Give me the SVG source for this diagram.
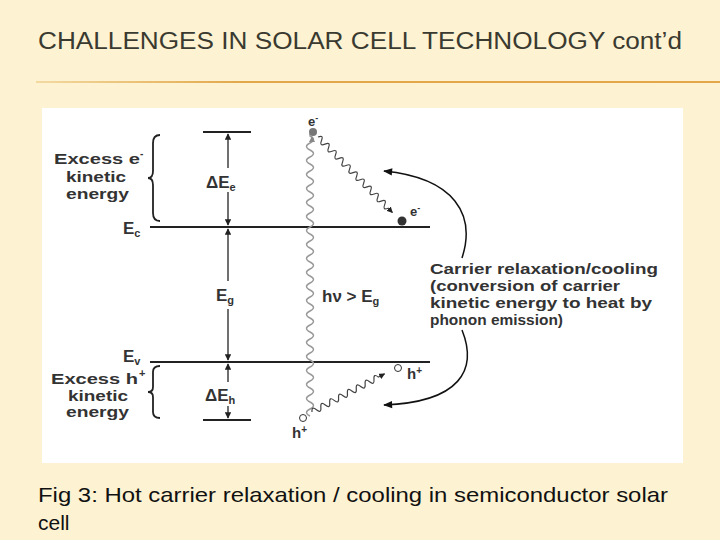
<svg xmlns="http://www.w3.org/2000/svg" width="720" height="540" viewBox="0 0 720 540">
<defs>
<linearGradient id="hl" x1="0" x2="1"><stop offset="0" stop-color="#f3d9a0"/><stop offset="0.3" stop-color="#e2a84a"/><stop offset="1" stop-color="#e6a64a"/></linearGradient>
<marker id="ah" viewBox="0 0 10 10" refX="9" refY="5" markerWidth="5" markerHeight="5" orient="auto-start-reverse"><path d="M0,0L10,5L0,10z" fill="#222"/></marker>
<marker id="big" viewBox="0 0 10 10" refX="9" refY="5" markerWidth="8" markerHeight="6" orient="auto"><path d="M0,1L10,5L0,9z" fill="#111"/></marker>
</defs>
<style>
.t{font-family:"Liberation Sans",Arial,sans-serif;fill:#333;font-weight:bold}
.l{stroke:#222;stroke-width:2;fill:none}
.w{stroke:#999;stroke-width:1.4;fill:none}
.z{stroke:#444;stroke-width:1.2;fill:none}
</style>
<rect width="720" height="540" fill="#fdf3d2"/>
<text x="38" y="49" font-family="Liberation Sans,Arial,sans-serif" font-size="23" fill="#3a3a30" textLength="644" lengthAdjust="spacingAndGlyphs">CHALLENGES IN SOLAR CELL TECHNOLOGY cont’d</text>
<rect x="36" y="81" width="684" height="2" fill="url(#hl)"/>
<rect x="42" y="108" width="641" height="355" fill="#fff"/>
<g id="levels">
<line class="l" x1="203" y1="132" x2="251" y2="132"/>
<line class="l" x1="150" y1="227" x2="430" y2="227"/>
<line class="l" x1="150" y1="362" x2="430" y2="362"/>
<line class="l" x1="203" y1="420" x2="251" y2="420"/>
</g>
<g id="connectors">
<line stroke="#222" stroke-width="1.3" x1="228" y1="134" x2="228" y2="225" marker-start="url(#ah)" marker-end="url(#ah)"/>
<line stroke="#222" stroke-width="1.3" x1="228" y1="229" x2="228" y2="360" marker-start="url(#ah)" marker-end="url(#ah)"/>
<line stroke="#222" stroke-width="1.3" x1="228" y1="364" x2="228" y2="418" marker-start="url(#ah)" marker-end="url(#ah)"/>
<g transform="translate(310,416) rotate(-90)"><path class="w" d="M0,0 q3.5,-7 7,0 t7,0 t7,0 t7,0 t7,0 t7,0 t7,0 t7,0 t7,0 t7,0 t7,0 t7,0 t7,0 t7,0 t7,0 t7,0 t7,0 t7,0 t7,0 t7,0 t7,0 t7,0 t7,0 t7,0 t7,0 t7,0 t7,0 t7,0 t7,0 t7,0 t7,0 t7,0 t7,0 t7,0 t7,0 t7,0 t7,0 t7,0 t7,0 t7,0 L282,0"/></g>
<path d="M312,136 l-3,6 l6,0z" fill="#888"/>
<g transform="translate(318,137) rotate(45.4)"><path class="z" d="M0,0 q2.5,-6 5,0 t5,0 t5,0 t5,0 t5,0 t5,0 t5,0 t5,0 t5,0 t5,0 t5,0 t5,0 t5,0 t5,0 t5,0 t5,0 t5,0 t5,0 t5,0 t5,0 L106,0" marker-end="url(#ah)"/></g>
<g transform="translate(312,412) rotate(-27.7)"><path class="z" d="M0,0 q2.5,-6 5,0 t5,0 t5,0 t5,0 t5,0 t5,0 t5,0 t5,0 t5,0 t5,0 t5,0 t5,0 t5,0 t5,0 t5,0 L82,0" marker-end="url(#ah)"/></g>
<path d="M462,258 C476,215 455,178 384,171" stroke="#111" stroke-width="1.5" fill="none" marker-end="url(#big)"/>
<path d="M462,330 C478,370 460,402 384,405" stroke="#111" stroke-width="1.5" fill="none" marker-end="url(#big)"/>
</g>
<g id="particles">
<circle cx="313" cy="132" r="4" fill="#777"/>
<circle cx="402" cy="221" r="4.5" fill="#333"/>
<circle cx="398" cy="368" r="3.5" fill="#fff" stroke="#333"/>
<circle cx="303" cy="418" r="3.5" fill="#fff" stroke="#333"/>
</g>
<g id="labels">
<text class="t" x="54" y="164" font-size="15" textLength="86" lengthAdjust="spacingAndGlyphs">Excess e</text><text class="t" x="140" y="157" font-size="10">-</text>
<text class="t" x="66" y="182" font-size="15" textLength="60" lengthAdjust="spacingAndGlyphs">kinetic</text>
<text class="t" x="66" y="199" font-size="15" textLength="63" lengthAdjust="spacingAndGlyphs">energy</text>
<text class="t" x="123" y="234" font-size="17">E<tspan font-size="11" dy="3">c</tspan></text>
<text class="t" x="123" y="362" font-size="17">E<tspan font-size="11" dy="3">v</tspan></text>
<text class="t" x="51" y="384" font-size="15" textLength="87" lengthAdjust="spacingAndGlyphs">Excess h</text><text class="t" x="139" y="377" font-size="11">+</text>
<text class="t" x="68" y="401" font-size="15" textLength="60" lengthAdjust="spacingAndGlyphs">kinetic</text>
<text class="t" x="66" y="417" font-size="15" textLength="63" lengthAdjust="spacingAndGlyphs">energy</text>
<rect x="205" y="168" width="46" height="24" fill="#fff"/>
<text class="t" x="206" y="188" font-size="17">ΔE<tspan font-size="11" dy="3">e</tspan></text>
<rect x="214" y="281" width="30" height="28" fill="#fff"/>
<text class="t" x="216" y="301" font-size="17">E<tspan font-size="11" dy="3">g</tspan></text>
<rect x="204" y="382" width="48" height="24" fill="#fff"/>
<text class="t" x="205" y="401" font-size="17">ΔE<tspan font-size="11" dy="3">h</tspan></text>
<text class="t" x="322" y="302" font-size="17">hν &gt; E<tspan font-size="11" dy="3">g</tspan></text>
<text class="t" x="308" y="126" font-size="13">e<tspan font-size="9" dy="-5">-</tspan></text>
<text class="t" x="410" y="216" font-size="13">e<tspan font-size="9" dy="-5">-</tspan></text>
<text class="t" x="407" y="379" font-size="15">h<tspan font-size="10" dy="-5">+</tspan></text>
<text class="t" x="292" y="438" font-size="15">h<tspan font-size="10" dy="-5">+</tspan></text>
<text class="t" x="430" y="274" font-size="15" textLength="228" lengthAdjust="spacingAndGlyphs">Carrier relaxation/cooling</text>
<text class="t" x="430" y="291" font-size="15" textLength="190" lengthAdjust="spacingAndGlyphs">(conversion of carrier</text>
<text class="t" x="430" y="308" font-size="15" textLength="222" lengthAdjust="spacingAndGlyphs">kinetic energy to heat by</text>
<text class="t" x="430" y="325" font-size="15" textLength="133" lengthAdjust="spacingAndGlyphs">phonon emission)</text>
</g>
<g id="braces" stroke="#222" stroke-width="1.8" fill="none">
<path d="M160,135 q-7,0 -7,8 v28 q0,7 -5,7 q5,0 5,7 v28 q0,8 7,8"/>
<path d="M160,366 q-7,0 -7,6 v15 q0,5 -5,5 q5,0 5,5 v15 q0,6 7,6"/>
</g>
<text x="38" y="502" font-family="Liberation Sans,Arial,sans-serif" font-size="21" fill="#111" textLength="630" lengthAdjust="spacingAndGlyphs">Fig 3: Hot carrier relaxation / cooling in semiconductor solar</text>
<text x="38" y="530" font-family="Liberation Sans,Arial,sans-serif" font-size="21" fill="#111">cell</text>
</svg>
